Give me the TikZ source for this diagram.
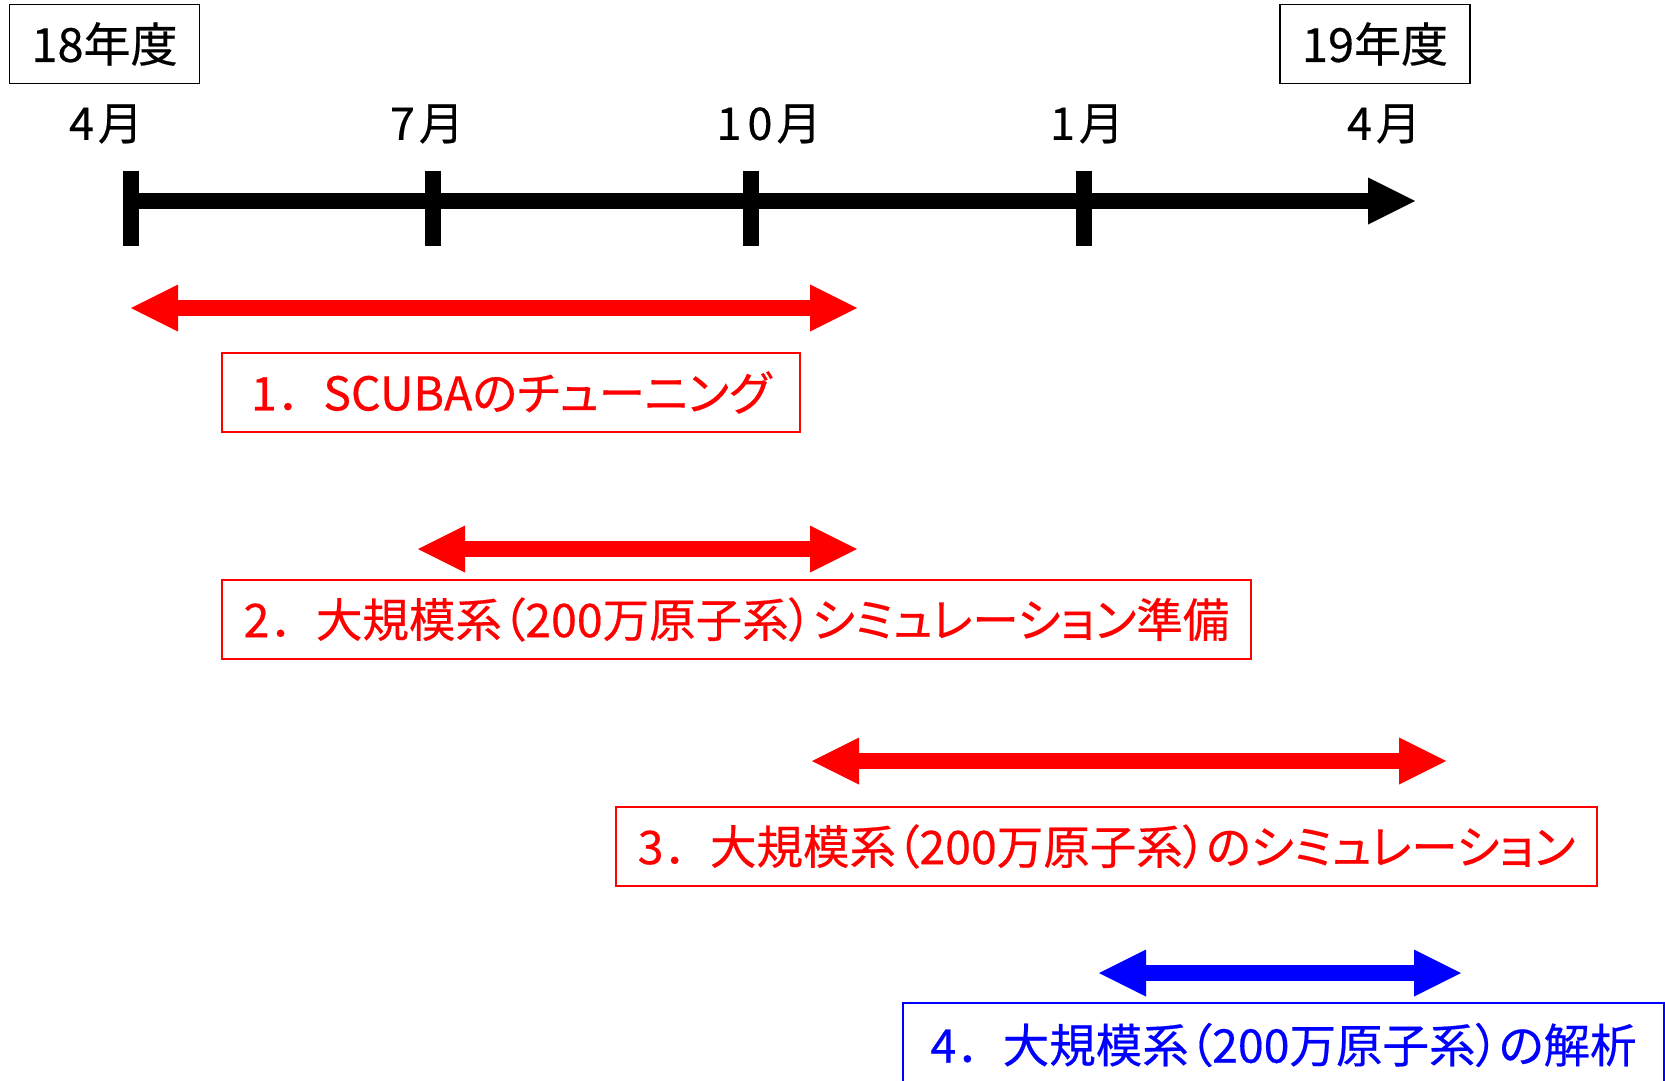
\documentclass[tikz,border=0pt]{standalone}
\usepackage{fontspec}
\usetikzlibrary{arrows.meta}
\newfontfamily\jp[RawFeature=+palt,FakeBold=0.4]{Noto Sans CJK JP}
\newfontfamily\jpm[FakeBold=0.4]{Noto Sans CJK JP}
\definecolor{myred}{RGB}{255,0,0}
\definecolor{myblue}{RGB}{0,0,255}
\begin{document}
\begin{tikzpicture}[x=1pt,y=-1pt,
  yearbox/.style={draw=black, line width=1.8pt, inner sep=0pt, minimum width=190pt, minimum height=79pt,
    font=\jpm\fontsize{47pt}{56pt}\selectfont},
  monlabel/.style={inner sep=0pt, font=\jpm\fontsize{45pt}{54pt}\selectfont},
  axisline/.style={line width=16pt, -{Triangle[length=47pt,width=47pt,line width=0pt]}},
  tickmark/.style={line width=16pt},
  taskbox/.style={draw, line width=2pt, inner sep=0pt, minimum height=79pt, anchor=north west,
    font=\jp\fontsize{46.5pt}{55pt}\selectfont},
  bar/.style={line width=16pt,
    {Triangle[length=47pt,width=47pt,line width=0pt]}-{Triangle[length=47pt,width=47pt,line width=0pt]}},
]
\clip (0,0) rectangle (1665,1081);
\fill[white] (0,0) rectangle (1665,1081);

% year boxes
\node[yearbox] (y18) at (104.5,44) {18年度};
\node[yearbox] (y19) at (1375,44) {19年度};

% month labels
\node[monlabel] (m4a)  at (106,124)  {4\kern4pt月};
\node[monlabel] (m7)   at (427,124)  {7\kern4pt月};
\node[monlabel] (m10)  at (769,124)  {1\kern6pt0\kern4pt月};
\node[monlabel] (m1)   at (1087,124) {1\kern4pt月};
\node[monlabel] (m4b)  at (1384,124) {4\kern4pt月};

% time axis
\coordinate (a0) at (123,201);
\coordinate (aend) at (1415,201);
\draw[axisline] (a0) -- (aend);
\coordinate (k4a) at (131,201);
\coordinate (k7) at (433,201);
\coordinate (k10) at (751,201);
\coordinate (k1) at (1084,201);
\foreach \k in {k4a,k7,k10,k1}{
  \draw[tickmark] ([yshift=30pt]\k) -- ([yshift=-45pt]\k);
}

% task 1
\coordinate (b1l) at (131,308);
\coordinate (b1r) at (857,308);
\draw[bar, myred] (b1l) -- (b1r);
\node[taskbox, draw=myred, text=myred, minimum width=578pt] (t1) at (221,352)
  {{\jpm 1．}SCUBAのチューニング};

% task 2
\coordinate (b2l) at (418,549);
\coordinate (b2r) at (857,549);
\draw[bar, myred] (b2l) -- (b2r);
\node[taskbox, draw=myred, text=myred, minimum width=1029pt] (t2) at (221,579)
  {{\jpm 2．}大規模系（200万原子系）シミュレーション準備};

% task 3
\coordinate (b3l) at (812,761);
\coordinate (b3r) at (1446,761);
\draw[bar, myred] (b3l) -- (b3r);
\node[taskbox, draw=myred, text=myred, minimum width=981pt] (t3) at (615,806)
  {{\jpm 3．}大規模系（200万原子系）のシミュレーション};

% task 4
\coordinate (b4l) at (1099,973);
\coordinate (b4r) at (1461,973);
\draw[bar, myblue] (b4l) -- (b4r);
\node[taskbox, draw=myblue, text=myblue, minimum width=761pt, minimum height=84pt] (t4) at (902,1002)
  {{\jpm 4．}大規模系（200万原子系）の解析};
\end{tikzpicture}
\end{document}
